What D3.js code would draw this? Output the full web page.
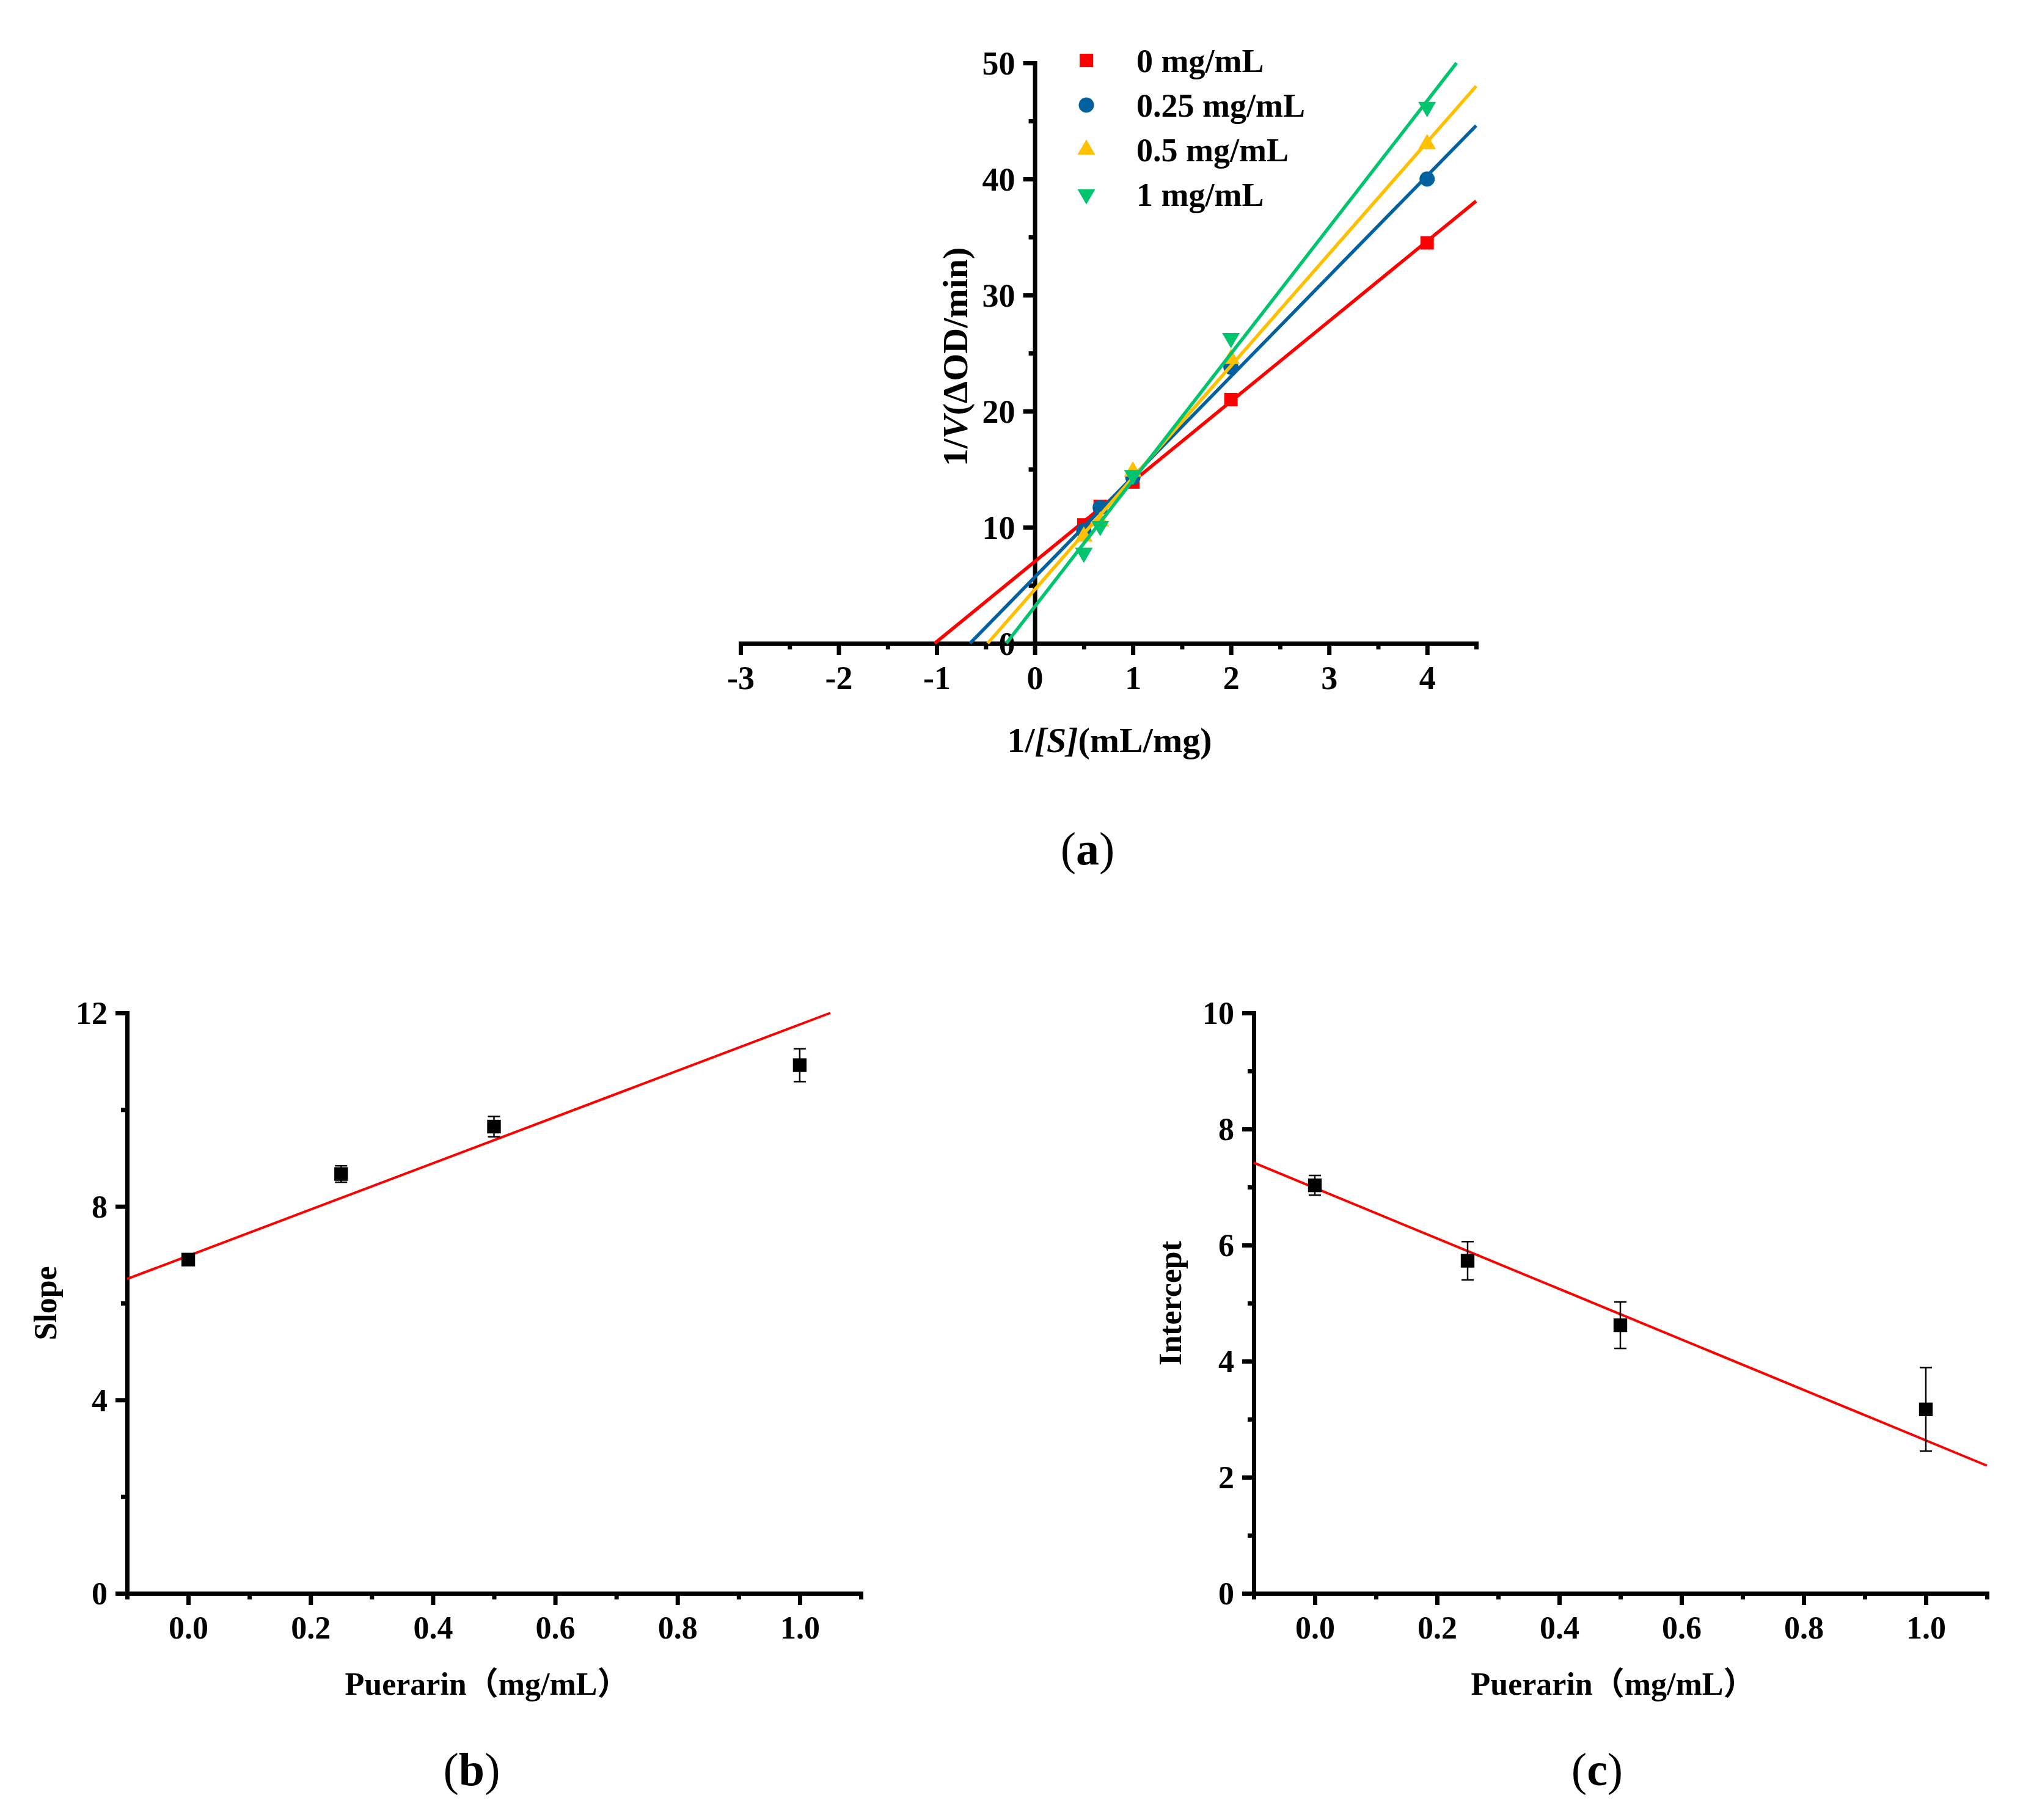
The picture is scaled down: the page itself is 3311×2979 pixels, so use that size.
<!DOCTYPE html>
<html>
<head>
<meta charset="utf-8">
<script src="https://cdn.jsdelivr.net/npm/d3@7"></script>
<style>
  body { margin: 0; background: #fff; }
  text { font-family: "Liberation Serif", "Times New Roman", serif; }
</style>
</head>
<body>
<svg id="fig" width="3311" height="2979"></svg>
<script>
// ---- (a) double reciprocal plot ----
var invS = [0.5, 0.667, 1, 2, 4];
var seriesNames = ["0 mg/mL", "0.25 mg/mL", "0.5 mg/mL", "1 mg/mL"];
var seriesColors = ["#ff0000", "#01619e", "#ffc000", "#00c46e"];
var invV = [
  [10.2, 11.8, 13.9, 21.0, 34.5],
  [9.7, 11.7, 14.3, 23.8, 40.0],
  [9.2, 10.5, 14.8, 24.5, 43.0],
  [7.8, 10.1, 14.5, 26.3, 46.2]
];
// fitted lines, end points [x0, y0, x1, y1]
var fitA = [
  [-1.02, 0, 4.5, 38.1],
  [-0.66, 0, 4.5, 44.6],
  [-0.48, 0, 4.5, 48.0],
  [-0.29, 0, 4.3, 50.0]
];

// ---- (b) slope and (c) intercept vs puerarin ----
var puerarin = [0, 0.25, 0.5, 1];
var slope = [6.9, 8.67, 9.65, 10.92];
var slopeErr = [0.08, 0.17, 0.21, 0.34];
var slopeFit = [[-0.1, 6.5], [1.05, 12.0]];
var intercept = [7.03, 5.73, 4.62, 3.17];
var interceptErr = [0.17, 0.33, 0.4, 0.72];
var interceptFit = [[-0.1, 7.42], [1.1, 2.2]];

var svg = d3.select("#fig");
svg.append("rect").attr("width", 3311).attr("height", 2979).attr("fill", "#fff");

function axis(orient, scale, pos, major, minor, fs, fmt) {
  var mk = orient === "bottom" ? d3.axisBottom : d3.axisLeft;
  var tr = orient === "bottom" ? "translate(0," + pos + ")" : "translate(" + pos + ",0)";
  var gMinor = svg.append("g").attr("transform", tr)
    .call(mk(scale).tickValues(minor).tickSize(10).tickSizeOuter(0).tickFormat(""));
  gMinor.select(".domain").remove();
  var g = svg.append("g").attr("transform", tr)
    .call(mk(scale).tickValues(major).tickSize(19).tickSizeOuter(0)
      .tickPadding(orient === "bottom" ? 18 : 13).tickFormat(fmt));
  [g, gMinor].forEach(function(s) {
    s.selectAll("line").attr("stroke", "#000").attr("stroke-width", 7);
  });
  g.select(".domain").attr("stroke", "#000").attr("stroke-width", 7).attr("stroke-linecap", "square");
  g.selectAll("text")
    .attr("fill", "#000")
    .style("font-size", fs + "px")
    .style("font-weight", "bold")
    .style("font-family", "'Liberation Serif', serif");
  if (orient === "left") g.selectAll("text").attr("dy", "0.34em");
  return g;
}

// plain hyphen for negative ticks, as in the original figure
var intFmt = function(d) { return String(d); };

// ================= (a) =================
var xA = d3.scaleLinear([-3, 4.5], [1212, 2416]);
var yA = d3.scaleLinear([0, 50], [1053, 103]);

axis("bottom", xA, yA(0), d3.range(-3, 5, 1), d3.range(-2.5, 5, 1), 54, intFmt);
axis("left", yA, xA(0), d3.range(0, 51, 10), d3.range(5, 50, 10), 54, intFmt);

var symTypes = [d3.symbolSquare, d3.symbolCircle, d3.symbolTriangle, d3.symbolTriangle];
var symSizes = [484, 491, 364, 364];
var symRot = [0, 0, 0, 180];

seriesNames.forEach(function(name, i) {
  var f = fitA[i];
  svg.append("line")
    .attr("x1", xA(f[0])).attr("y1", yA(f[1]))
    .attr("x2", xA(f[2])).attr("y2", yA(f[3]))
    .attr("stroke", seriesColors[i]).attr("stroke-width", 5.5);
  svg.append("g").selectAll("path")
    .data(invV[i])
    .join("path")
    .attr("d", d3.symbol(symTypes[i], symSizes[i]))
    .attr("transform", function(d, j) {
      return "translate(" + xA(invS[j]) + "," + yA(d) + ") rotate(" + symRot[i] + ")";
    })
    .attr("fill", seriesColors[i]);
});

// legend
var legend = svg.append("g");
seriesNames.forEach(function(name, i) {
  var ly = 99 + i * 73;
  legend.append("path")
    .attr("d", d3.symbol(symTypes[i], symSizes[i]))
    .attr("transform", "translate(1778," + ly + ") rotate(" + symRot[i] + ")")
    .attr("fill", seriesColors[i]);
  legend.append("text")
    .attr("x", 1860).attr("y", ly).attr("dy", "0.35em")
    .style("font-size", "54px").style("font-weight", "bold")
    .text(name);
});

// axis titles (a)
var xtA = svg.append("text")
  .attr("x", 1816).attr("y", 1231)
  .attr("text-anchor", "middle")
  .style("font-size", "58px").style("font-weight", "bold");
xtA.append("tspan").text("1/");
xtA.append("tspan").style("font-style", "italic").text("[S]");
xtA.append("tspan").text("(mL/mg)");

var ytA = svg.append("text")
  .attr("transform", "translate(1583,584) rotate(-90)")
  .attr("text-anchor", "middle")
  .style("font-size", "58px").style("font-weight", "bold");
ytA.append("tspan").text("1/");
ytA.append("tspan").style("font-style", "italic").text("V");
ytA.append("tspan").text("(\u0394OD/min)");

// ================= (b) and (c) =================
function errPlot(x, y, vals, errs, fit) {
  svg.append("line")
    .attr("x1", x(fit[0][0])).attr("y1", y(fit[0][1]))
    .attr("x2", x(fit[1][0])).attr("y2", y(fit[1][1]))
    .attr("stroke", "#ff0000").attr("stroke-width", 4);
  var g = svg.append("g");
  puerarin.forEach(function(p, i) {
    var cx = x(p);
    var top = y(vals[i] + errs[i]), bot = y(vals[i] - errs[i]);
    g.append("line").attr("x1", cx).attr("x2", cx).attr("y1", top).attr("y2", bot)
      .attr("stroke", "#000").attr("stroke-width", 2.5);
    [top, bot].forEach(function(yy) {
      g.append("line").attr("x1", cx - 10).attr("x2", cx + 10).attr("y1", yy).attr("y2", yy)
        .attr("stroke", "#000").attr("stroke-width", 2.5);
    });
  });
  g.selectAll("path.pt")
    .data(vals)
    .join("path")
    .attr("class", "pt")
    .attr("d", d3.symbol(d3.symbolSquare, 500))
    .attr("transform", function(d, i) { return "translate(" + x(puerarin[i]) + "," + y(d) + ")"; })
    .attr("fill", "#000");
}

var xB = d3.scaleLinear([-0.1, 1.1], [208, 1409]);
var yB = d3.scaleLinear([0, 12], [2608, 1658]);
axis("bottom", xB, yB(0), [0, 0.2, 0.4, 0.6, 0.8, 1.0], [-0.1, 0.1, 0.3, 0.5, 0.7, 0.9, 1.1], 52, d3.format(".1f"));
axis("left", yB, xB(-0.1), [0, 4, 8, 12], [2, 6, 10], 52, intFmt);
errPlot(xB, yB, slope, slopeErr, slopeFit);

var xC = d3.scaleLinear([-0.1, 1.1], [2052, 3252]);
var yC = d3.scaleLinear([0, 10], [2608, 1658]);
axis("bottom", xC, yC(0), [0, 0.2, 0.4, 0.6, 0.8, 1.0], [-0.1, 0.1, 0.3, 0.5, 0.7, 0.9, 1.1], 52, d3.format(".1f"));
axis("left", yC, xC(-0.1), [0, 2, 4, 6, 8, 10], [1, 3, 5, 7, 9], 52, intFmt);
errPlot(xC, yC, intercept, interceptErr, interceptFit);

function title(x, y, txt, rot) {
  svg.append("text")
    .attr("transform", "translate(" + x + "," + y + ")" + (rot ? " rotate(-90)" : ""))
    .attr("text-anchor", "middle")
    .style("font-size", "52px").style("font-weight", "bold")
    .style("font-family", "'Liberation Serif', 'Noto Sans CJK SC', serif")
    .text(txt);
}
title(797, 2774, "Puerarin\uff08mg/mL\uff09");
title(2640, 2774, "Puerarin\uff08mg/mL\uff09");
title(92, 2133, "Slope", true);
title(1933, 2133, "Intercept", true);

// panel letters
[["a", 1780, 1415], ["b", 772, 2922], ["c", 2614, 2922]].forEach(function(p) {
  var t = svg.append("text")
    .attr("x", p[1]).attr("y", p[2])
    .attr("text-anchor", "middle")
    .style("font-size", "76px");
  t.append("tspan").text("(");
  t.append("tspan").style("font-weight", "bold").text(p[0]);
  t.append("tspan").text(")");
});
</script>
</body>
</html>
